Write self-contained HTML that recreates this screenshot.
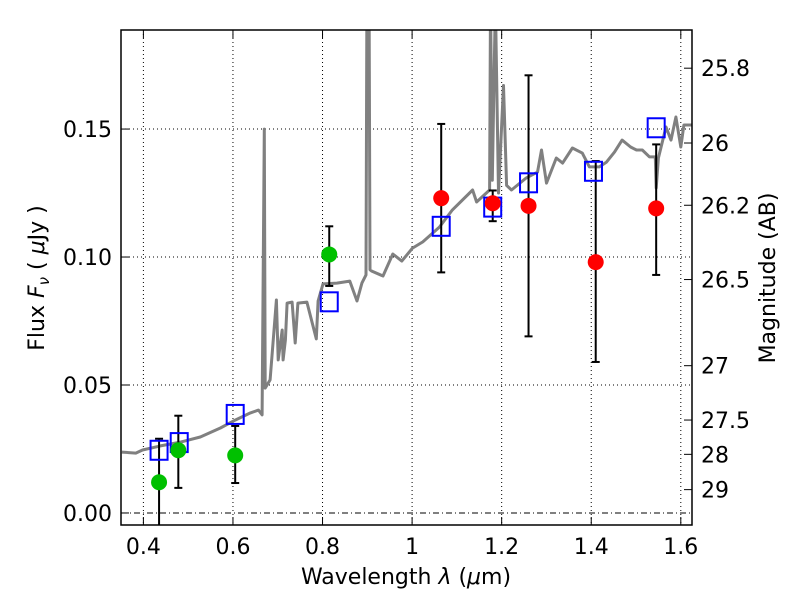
<!DOCTYPE html>
<html><head><meta charset="utf-8"><style>
body{margin:0;background:#fff}
svg{display:block;font-family:"DejaVu Sans","Liberation Sans",sans-serif}
</style></head><body>
<svg id="chart" width="800" height="600" xmlns="http://www.w3.org/2000/svg">
<rect width="800" height="600" fill="#fff"/>
<g id="grid"></g>
<g id="plot"></g>
<g id="axes"></g>
<text x="406" y="584" font-size="22" text-anchor="middle">Wavelength  <tspan font-style="italic">λ</tspan> (<tspan font-style="italic">μ</tspan>m)</text>
<text transform="translate(44,278) rotate(-90)" font-size="22" text-anchor="middle">Flux  <tspan font-style="italic">F</tspan><tspan font-style="italic" font-size="15" dy="5">ν</tspan><tspan dy="-5">  ( </tspan><tspan font-style="italic">μ</tspan>Jy )</text>
<text transform="translate(775,278) rotate(-90)" font-size="22" text-anchor="middle">Magnitude (AB)</text>
</svg>
<script>
const specLam=[0.352,0.383,0.398,0.438,0.483,0.527,0.572,0.605,0.639,0.657,0.665,0.670,0.672,0.683,0.697,0.701,0.710,0.712,0.717,0.721,0.732,0.739,0.745,0.765,0.786,0.790,0.801,0.832,0.861,0.877,0.888,0.897,0.899,0.904,0.906,0.910,0.935,0.957,0.977,1.001,1.024,1.061,1.090,1.135,1.144,1.173,1.175,1.179,1.186,1.193,1.204,1.211,1.222,1.255,1.280,1.289,1.300,1.322,1.336,1.358,1.380,1.396,1.418,1.434,1.452,1.469,1.488,1.501,1.514,1.530,1.543,1.545,1.550,1.567,1.578,1.589,1.600,1.607,1.625];
const specFlux=[0.0238,0.0234,0.0246,0.0262,0.0277,0.0297,0.0332,0.0363,0.0391,0.0402,0.0383,0.150,0.0488,0.052,0.0832,0.0598,0.0715,0.0598,0.0676,0.0820,0.0824,0.0664,0.0820,0.0824,0.0680,0.0828,0.0895,0.0898,0.0906,0.0828,0.0898,0.0930,0.20,0.20,0.095,0.0945,0.0926,0.1012,0.0984,0.1035,0.1059,0.1117,0.1184,0.1262,0.1215,0.1262,0.20,0.13,0.20,0.125,0.167,0.128,0.1262,0.1309,0.1332,0.1418,0.1289,0.1387,0.1367,0.1426,0.1406,0.1352,0.1352,0.1371,0.1410,0.1457,0.1430,0.1418,0.1418,0.1391,0.1391,0.1270,0.1387,0.1508,0.1457,0.1547,0.1430,0.1516,0.1516];
const greenLam=[0.435,0.478,0.605,0.815];
const greenFlux=[0.012,0.0245,0.0225,0.101];
const greenLo=[-0.01,0.0098,0.0117,0.0887];
const greenHi=[0.029,0.038,0.034,0.112];
const redLam=[1.065,1.18,1.26,1.41,1.545];
const redFlux=[0.123,0.121,0.120,0.098,0.119];
const redLo=[0.094,0.114,0.069,0.059,0.093];
const redHi=[0.152,0.126,0.171,0.1375,0.144];
const modelLam=[0.435,0.48,0.605,0.815,1.065,1.18,1.26,1.405,1.545];
const modelFlux=[0.0245,0.0275,0.0385,0.0825,0.112,0.1195,0.129,0.1335,0.1505];
const xTicks=[0.4,0.6,0.8,1.0,1.2,1.4,1.6];
const xTickLabels=["0.4","0.6","0.8","1","1.2","1.4","1.6"];
const yTicks=[0,0.05,0.10,0.15];
const yTickLabels=["0.00","0.05","0.10","0.15"];
const magTicks=[25.8,26,26.2,26.5,27,27.5,28,29];
const magTickLabels=["25.8","26","26.2","26.5","27","27.5","28","29"];

const L=121,R=692,T=30,B=525,X0=0.35,X1=1.625,Y0=-0.0047,Y1=0.1887;
const sx=v=>L+(v-X0)/(X1-X0)*(R-L);
const sy=v=>B-(v-Y0)/(Y1-Y0)*(B-T);
const NS="http://www.w3.org/2000/svg";
function mk(tag,attrs,parent){const e=document.createElementNS(NS,tag);for(const k in attrs)e.setAttribute(k,attrs[k]);parent.appendChild(e);return e;}
const grid=document.getElementById('grid'),plot=document.getElementById('plot'),axes=document.getElementById('axes');

const defs=mk('defs',{},document.getElementById('chart'));
const cp=mk('clipPath',{id:'clip'},defs);mk('rect',{x:L,y:T,width:R-L,height:B-T},cp);
plot.setAttribute('clip-path','url(#clip)');

xTicks.forEach((v,i)=>{
  const g=mk('line',{x1:sx(v),x2:sx(v),y1:T,y2:B,stroke:'#000','stroke-width':1,'stroke-dasharray':'1,3'},grid);
  
  mk('line',{x1:sx(v),x2:sx(v),y1:B,y2:B-8,stroke:'#000'},axes);
  mk('line',{x1:sx(v),x2:sx(v),y1:T,y2:T+8,stroke:'#000'},axes);
  const t=mk('text',{x:sx(v),y:B+29,'font-size':22,'text-anchor':'middle'},axes);t.textContent=xTickLabels[i];
  
});
yTicks.forEach((v,i)=>{
  const g=mk('line',{x1:L,x2:R,y1:sy(v),y2:sy(v),stroke:'#000','stroke-width':1,'stroke-dasharray':v===0?'6,3,1,3':'1,3'},grid);
  
  mk('line',{x1:L,x2:L+8,y1:sy(v),y2:sy(v),stroke:'#000'},axes);
  const t=mk('text',{x:L-9,y:sy(v)+8,'font-size':22,'text-anchor':'end'},axes);t.textContent=yTickLabels[i];
  
});
magTicks.forEach((m,i)=>{
  const f=Math.pow(10,(23.9-m)/2.5);const y=sy(f);
  mk('line',{x1:R-8,x2:R,y1:y,y2:y,stroke:'#000'},axes);
  const t=mk('text',{x:R+9,y:y+8,'font-size':22},axes);t.textContent=magTickLabels[i];
  
});

let d='';specLam.forEach((v,i)=>{d+=(i?'L':'M')+sx(v).toFixed(1)+','+sy(specFlux[i]).toFixed(1);});
const sp=mk('path',{d:d,fill:'none',stroke:'#808080','stroke-width':3,'stroke-linejoin':'round'},plot);


function errbar(x,lo,hi,name){
  const g=mk('g',{stroke:'#000','stroke-width':2},plot);
  
  mk('line',{x1:sx(x),x2:sx(x),y1:sy(lo),y2:sy(hi)},g);
  mk('line',{x1:sx(x)-4,x2:sx(x)+4,y1:sy(lo),y2:sy(lo)},g);
  mk('line',{x1:sx(x)-4,x2:sx(x)+4,y1:sy(hi),y2:sy(hi)},g);
}
greenLam.forEach((v,i)=>errbar(v,greenLo[i],greenHi[i],'green-error-bar'));
redLam.forEach((v,i)=>errbar(v,redLo[i],redHi[i],'red-error-bar'));
modelLam.forEach((v,i)=>{
  const r=mk('rect',{x:sx(v)-8.5,y:sy(modelFlux[i])-9.5,width:17,height:19,fill:'none',stroke:'#0000ff','stroke-width':2},plot);
  
});
greenLam.forEach((v,i)=>{
  const c=mk('circle',{cx:sx(v),cy:sy(greenFlux[i]),r:8,fill:'#00c000'},plot);
  
});
redLam.forEach((v,i)=>{
  const c=mk('circle',{cx:sx(v),cy:sy(redFlux[i]),r:8,fill:'#ff0000'},plot);
  
});
const fr=mk('rect',{x:L,y:T,width:R-L,height:B-T,fill:'none',stroke:'#000','stroke-width':1.5},axes);

</script>
</body></html>
